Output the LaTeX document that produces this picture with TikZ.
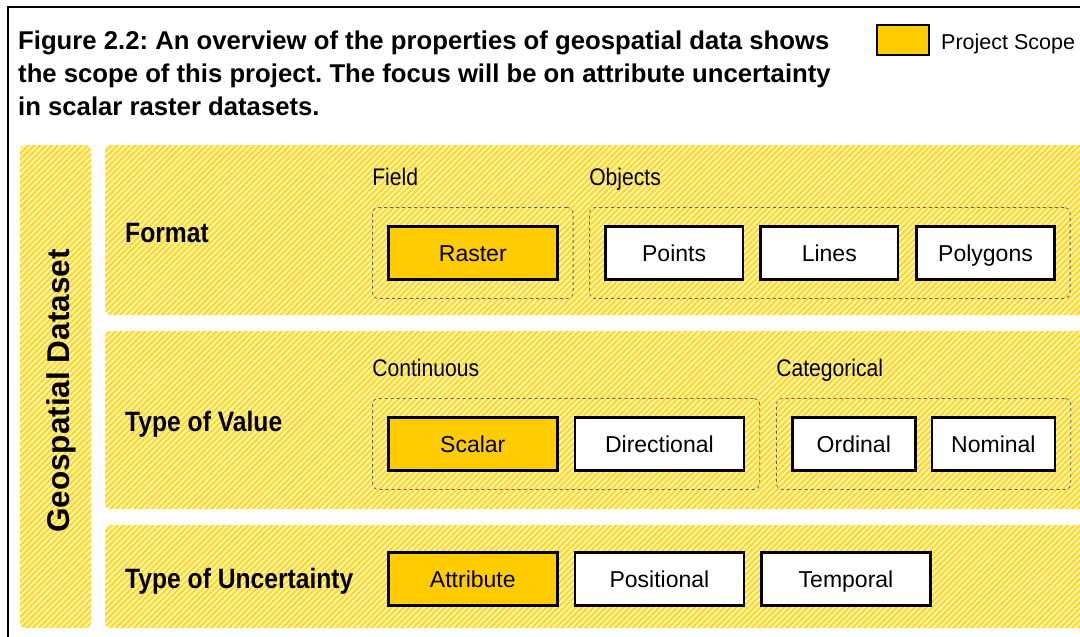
\documentclass[tikz,border=0pt]{standalone}
\usepackage{fontspec}
\setmainfont{Liberation Sans}
\newfontfamily\narrowsf[FakeStretch=0.88]{Liberation Sans}
\usetikzlibrary{positioning,fit,patterns.meta}
\definecolor{scopegold}{RGB}{255,204,0}
\definecolor{hatchlight}{RGB}{255,246,176}
\definecolor{hatchdark}{RGB}{255,214,40}
\definecolor{groupgray}{RGB}{100,100,100}
\frenchspacing

\begin{document}
\begin{tikzpicture}[x=1pt,y=-1pt,
  band/.style={preaction={fill=hatchlight},pattern={Lines[angle=45,distance=4.2pt,line width=2pt]},
    pattern color=hatchdark,rounded corners=5pt},
  valbox/.style={draw=black,line width=2.6pt,fill=white,inner sep=0pt,minimum height=53.4pt,
    text height=16.5pt,text depth=0pt,font=\fontsize{23}{27}\selectfont},
  scopebox/.style={valbox,fill=scopegold},
  boxwide/.style={minimum width=169pt},
  boxmid/.style={minimum width=137.6pt},
  boxnarrow/.style={minimum width=123pt},
  groupbox/.style={draw=groupgray,dashed,line width=0.8pt,rounded corners=6pt,inner xsep=14.5pt,inner ysep=17.5pt},
  grouplabel/.style={anchor=base west,inner sep=0pt,font=\narrowsf\fontsize{24}{28}\selectfont},
  rowlabel/.style={anchor=base west,inner sep=0pt,font=\narrowsf\bfseries\fontsize{28}{32}\selectfont}]
  \useasboundingbox (0,0) rectangle (1080,637);
  \clip (0,0) rectangle (1080,637);

  \draw[line width=2pt] (8,700) |- (1100,7);
  \node[font=\bfseries\fontsize{25.7}{33}\selectfont\frenchspacing,align=left,anchor=base west,inner sep=0pt] (title) at (18,115)
    {Figure 2.2: An overview of the properties of geospatial data shows\\
     the scope of this project. The focus will be on attribute uncertainty\\
     in scalar raster datasets.};
  \node[scopebox,line width=2pt,minimum width=52pt,minimum height=30pt,anchor=north west] (legendbox) at (876,24) {};
  \node[anchor=base west,inner sep=0pt,font=\fontsize{21.5}{25}\selectfont] (legendtext) at (941,49) {Project Scope};

  \path[band] (20,145) rectangle (91,628);
  \path[band] (105,145) rectangle (1100,315);
  \path[band] (105,331) rectangle (1100,509);
  \path[band] (105,525) rectangle (1100,628);
  \node[font=\bfseries\fontsize{31.5}{36}\selectfont,rotate=90,anchor=base,inner sep=0pt] (dataset) at (69,391) {Geospatial Dataset};

  \node[rowlabel] (format) at (125,242) {Format};
  \node[scopebox,boxwide,anchor=west] (raster) at (387,253) {Raster};
  \node[valbox,boxmid,anchor=west] (points) at (604,253) {Points};
  \node[valbox,boxmid,right=15pt of points] (lines) {Lines};
  \node[valbox,boxmid,right=16pt of lines] (polygons) {Polygons};
  \node[groupbox,fit=(raster)] (field) {};
  \node[groupbox,fit=(points) (polygons)] (objects) {};
  \node[grouplabel] (fieldlabel) at ([yshift=21.5pt]field.north west) {Field};
  \node[grouplabel] (objectslabel) at ([yshift=21.5pt]objects.north west) {Objects};

  \node[rowlabel] (valuetype) at (125,431) {Type of Value};
  \node[scopebox,boxwide,anchor=west] (scalar) at (387,444) {Scalar};
  \node[valbox,boxwide,right=15pt of scalar] (directional) {Directional};
  \node[valbox,boxnarrow,anchor=west] (ordinal) at (791,444) {Ordinal};
  \node[valbox,boxnarrow,right=14pt of ordinal] (nominal) {Nominal};
  \node[groupbox,fit=(scalar) (directional)] (continuous) {};
  \node[groupbox,fit=(ordinal) (nominal)] (categorical) {};
  \node[grouplabel] (continuouslabel) at ([yshift=21.5pt]continuous.north west) {Continuous};
  \node[grouplabel] (categoricallabel) at ([yshift=21.5pt]categorical.north west) {Categorical};

  \node[rowlabel] (uncertaintytype) at (125,588) {Type of Uncertainty};
  \node[scopebox,boxwide,anchor=west] (attribute) at (387,579) {Attribute};
  \node[valbox,boxwide,right=15pt of attribute] (positional) {Positional};
  \node[valbox,boxwide,right=15pt of positional] (temporal) {Temporal};
\end{tikzpicture}
\end{document}
